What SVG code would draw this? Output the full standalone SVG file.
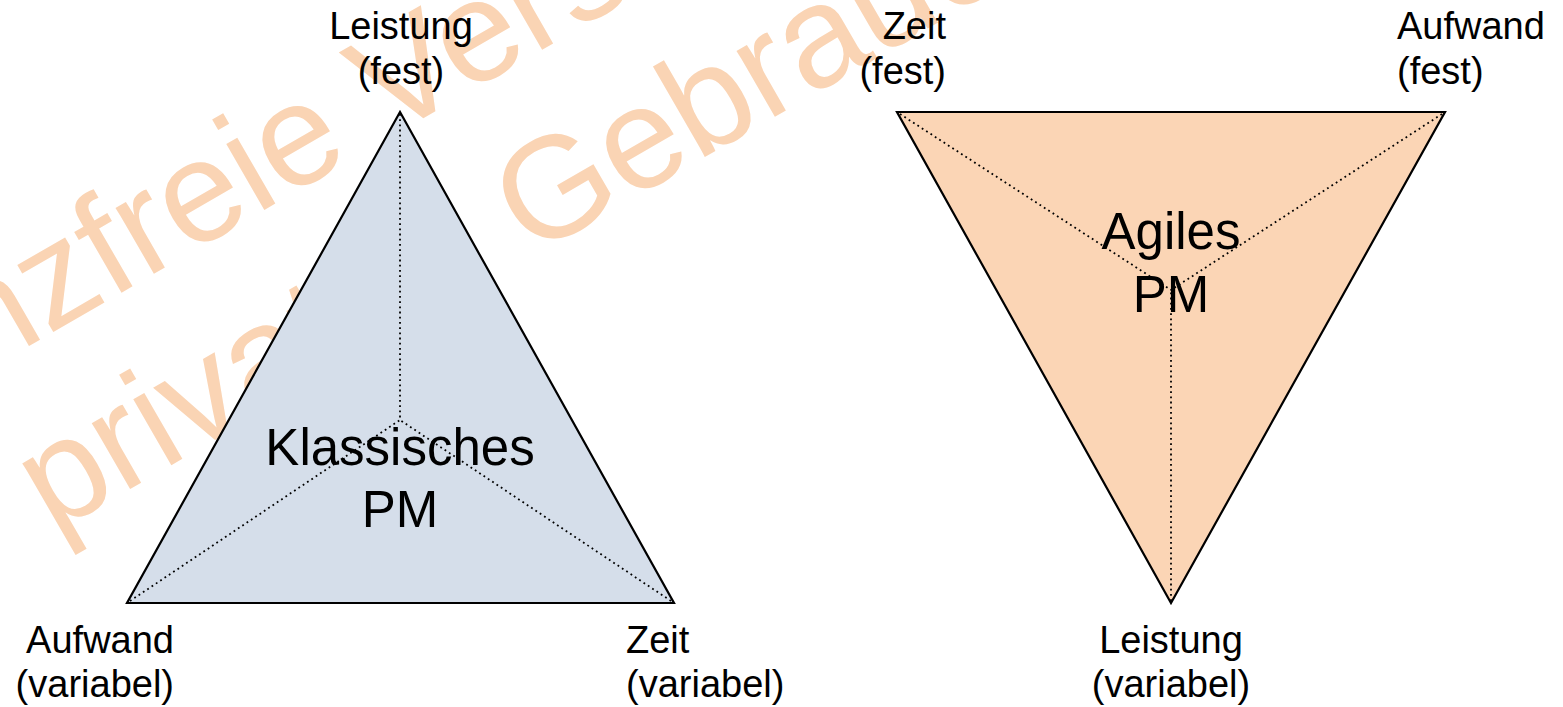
<svg xmlns="http://www.w3.org/2000/svg" width="1563" height="707" viewBox="0 0 1563 707">
  <style>
    text { font-family: "Liberation Sans", Arial, sans-serif; fill: #000; }
    .wm { font-size: 144px; fill: #FAD4B4; }
    .lbl { font-size: 38px; }
    .ctr { font-size: 51px; text-anchor: middle; }
    .tri { stroke: #000; stroke-width: 2.2; stroke-linejoin: miter; }
    .dot { stroke: #000; stroke-width: 1.8; stroke-dasharray: 1.8 3.4; fill: none; }
  </style>

  <rect width="1563" height="707" fill="#fff"/>

  <!-- background stamp, rotated -30 degrees -->
  <g id="watermark">
    <text class="wm" transform="translate(-250,507) rotate(-30)">Lizenzfreie Version</text>
    <text class="wm" transform="translate(-128,638) rotate(-30)">für privaten Gebrauch</text>
  </g>

  <!-- classic project management triangle -->
  <g id="classic">
    <polygon class="tri" points="400,112 127,603 674,603" fill="#D5DEEA"/>
    <text class="ctr" x="400" y="465">Klassisches</text>
    <text class="ctr" x="400" y="527">PM</text>
  </g>

  <!-- agile project management triangle -->
  <g id="agile">
    <polygon class="tri" points="897,112 1445,112 1171,603" fill="#FBD5B5"/>
    <text class="ctr" x="1171" y="249">Agiles</text>
    <text class="ctr" x="1171" y="312">PM</text>
  </g>

  <!-- dotted spokes from each corner to the inner point -->
  <g id="connectors">
    <line class="dot" x1="400" y1="114" x2="400" y2="420"/>
    <line class="dot" x1="130" y1="601" x2="400" y2="420"/>
    <line class="dot" x1="671" y1="601" x2="400" y2="420"/>
    <line class="dot" x1="900" y1="114" x2="1171" y2="290"/>
    <line class="dot" x1="1442" y1="114" x2="1171" y2="290"/>
    <line class="dot" x1="1171" y1="601" x2="1171" y2="290"/>
  </g>

  <!-- corner labels -->
  <g id="label-leistung-fest">
    <text class="lbl" x="401" y="39" text-anchor="middle">Leistung</text>
    <text class="lbl" x="401" y="84" text-anchor="middle">(fest)</text>
  </g>
  <g id="label-aufwand-variabel">
    <text class="lbl" x="174" y="653" text-anchor="end">Aufwand</text>
    <text class="lbl" x="174" y="697" text-anchor="end">(variabel)</text>
  </g>
  <g id="label-zeit-variabel">
    <text class="lbl" x="626" y="653">Zeit</text>
    <text class="lbl" x="626" y="697">(variabel)</text>
  </g>
  <g id="label-zeit-fest">
    <text class="lbl" x="946" y="39" text-anchor="end">Zeit</text>
    <text class="lbl" x="946" y="84" text-anchor="end">(fest)</text>
  </g>
  <g id="label-aufwand-fest">
    <text class="lbl" x="1397" y="39">Aufwand</text>
    <text class="lbl" x="1397" y="84">(fest)</text>
  </g>
  <g id="label-leistung-variabel">
    <text class="lbl" x="1171" y="653" text-anchor="middle">Leistung</text>
    <text class="lbl" x="1171" y="697" text-anchor="middle">(variabel)</text>
  </g>
</svg>
